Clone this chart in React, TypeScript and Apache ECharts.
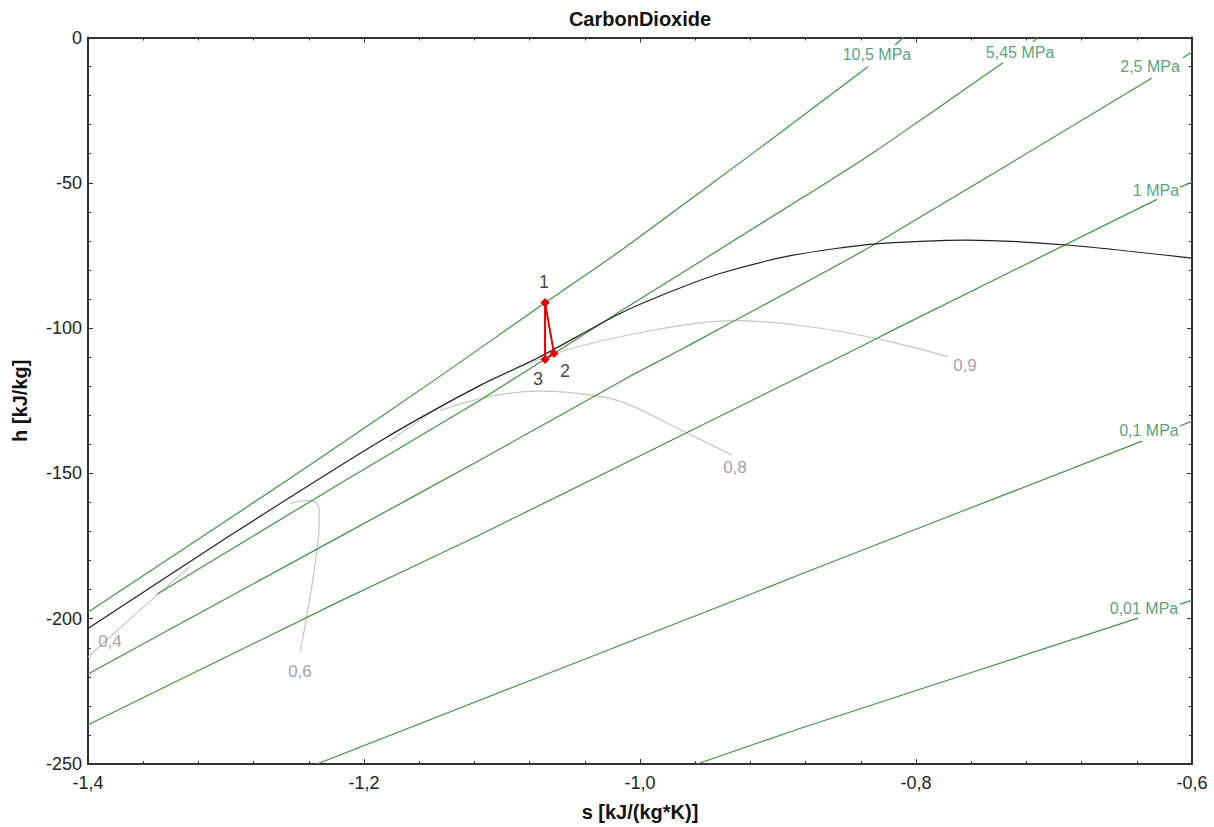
import React, { useEffect, useRef } from 'react';
import * as echarts from 'echarts';

type P = [number, number];

// ---- axis ranges / ticks ----
const S_MIN = -1.4;
const S_MAX = -0.6;
const S_STEP = 0.2;
const H_MIN = -250;
const H_MAX = 0;
const H_STEP = 50;

// ---- isobars (main part + short tail after label gap) ----
const isobarNames = ['10,5 MPa', '5,45 MPa', '2,5 MPa', '1 MPa', '0,1 MPa', '0,01 MPa'];

const isobar105: P[] = [[-1.4, -197.8], [-1.2529, -151.5], [-1.1471, -117.3], [-1.0688, -91.3], [-1.0123, -72.8], [-0.9145, -38.5], [-0.8348, -10.1]];
const isobar105Tail: P[] = [[-0.8152, -2.6], [-0.8091, 0]];

const isobar545: P[] = [[-1.35, -191.6], [-1.2188, -153.9], [-1.1159, -124.8], [-1.0623, -108.7], [-1.0145, -94.3], [-0.8841, -55.7], [-0.8275, -38.5], [-0.737, -8.7]];
const isobar545Tail: P[] = [[-0.7152, -1.5], [-0.7116, 0]];

const isobar25: P[] = [[-1.4, -219.0], [-1.2188, -172.1], [-1.1159, -145.4], [-1.0072, -116.6], [-0.9688, -107.0], [-0.8333, -72.1], [-0.629, -13.9]];
const isobar25Tail: P[] = [[-0.6065, -7.0], [-0.6, -5.0]];

const isobar1: P[] = [[-1.4, -236.5], [-1.2188, -194.3], [-1.1159, -171.1], [-0.8428, -107.0], [-0.8116, -99.5], [-0.6254, -55.7]];
const isobar1Tail: P[] = [[-0.6087, -51.5], [-0.6, -49.8]];

const isobar01: P[] = [[-1.2341, -250], [-0.9254, -192.6], [-0.8841, -184.8], [-0.6362, -138.9]];
const isobar01Tail: P[] = [[-0.6087, -133.7], [-0.6, -132.0]];

const isobar001: P[] = [[-0.9587, -250], [-0.8841, -237.8], [-0.6391, -199.8]];
const isobar001Tail: P[] = [[-0.6087, -195.0], [-0.6, -193.7]];

const isobarLabelPos: P[] = [[-0.8283, -6.0], [-0.7246, -5.3], [-0.6304, -10.1], [-0.6261, -52.6], [-0.6312, -135.1], [-0.6348, -196.4]];

// ---- black curve ----
const blackCurve: P[] = [[-1.4, -203.4], [-1.2971, -171.4], [-1.1884, -138.9], [-1.1159, -119.7], [-1.0746, -110.4], [-1.0145, -95.0], [-0.978, -87.5], [-0.942, -81.2], [-0.89, -75.0], [-0.8312, -71.1], [-0.763, -69.7], [-0.6906, -71.4], [-0.6, -75.9]];

// ---- vapour quality curves ----
const qualityNames = ['0,9', '0,8', '0,6', '0,4'];
const quality09: P[] = [[-1.1812, -138.9], [-1.1377, -125.2], [-1.0652, -109.4], [-0.9928, -100.9], [-0.9326, -97.4], [-0.8841, -99.1], [-0.8283, -103.6], [-0.7768, -109.8]];
const quality08: P[] = [[-1.1449, -128.3], [-1.1087, -123.5], [-1.0725, -121.7], [-1.029, -123.5], [-1.0072, -126.5], [-0.9688, -135.4], [-0.9333, -143.7]];
const quality06: P[] = [[-1.2536, -160.4], [-1.2428, -159.4], [-1.2355, -159.8], [-1.2326, -162.2], [-1.2326, -168.7], [-1.2348, -178.9], [-1.2391, -192.6], [-1.2442, -206.3], [-1.2464, -211.5]];
const quality04: P[] = [[-1.3261, -182.0], [-1.3493, -191.6], [-1.3761, -202.9], [-1.4, -213.2]];
const qualityLabelPos: P[] = [[-0.7645, -112.8], [-0.9312, -148.1], [-1.2464, -218.3], [-1.3841, -208.0]];

// ---- cycle points ----
const cycleNames = ['1', '2', '3'];
const cyclePoints: P[] = [[-1.0688, -91.3], [-1.0623, -108.7], [-1.0688, -110.8]];
const cycleLabelPos: P[] = [[-1.0696, -84.1], [-1.0543, -114.9], [-1.0739, -117.6]];

const FONT = '"Liberation Sans", Arial, sans-serif';
const GREEN = '#3d963d';
const GREEN_TEXT = '#2a8a55';
const GREY = '#c6c6c6';
const GREY_TEXT = '#8a8a8a';

function lineSeries(name: string, data: P[], color: string, width: number, z = 2, smooth: number | boolean = false) {
  return {
    name,
    type: 'line',
    data,
    showSymbol: false,
    symbol: 'none',
    smooth,
    lineStyle: { color, width },
    z,
    silent: true,
  };
}

function labelSeries(name: string, names: string[], pos: P[], color: string, size: number) {
  return {
    name,
    type: 'scatter',
    symbolSize: 1,
    itemStyle: { color: 'transparent' },
    data: pos.map((p, i) => ({ value: p, label: { formatter: names[i] } })),
    label: { show: true, position: 'inside', color, fontSize: size, fontFamily: FONT },
    z: 10,
    silent: true,
  };
}

export default function App() {
  const ref = useRef<HTMLDivElement>(null);
  useEffect(() => {
    if (!ref.current) return;
    const chart = echarts.init(ref.current, undefined, { renderer: 'svg' });
    const isoMain = [isobar105, isobar545, isobar25, isobar1, isobar01, isobar001];
    const isoTail = [isobar105Tail, isobar545Tail, isobar25Tail, isobar1Tail, isobar01Tail, isobar001Tail];
    const qual = [quality09, quality08, quality06, quality04];
    const series: any[] = [];
    isoMain.forEach((d, i) => series.push(lineSeries(isobarNames[i], d, GREEN, 1.2, 2, 0.15)));
    isoTail.forEach((d, i) => series.push(lineSeries(isobarNames[i] + ' tail', d, GREEN, 1.2, 2, false)));
    qual.forEach((d, i) => series.push(lineSeries('x=' + qualityNames[i], d, GREY, 1.2, 1, 0.3)));
    series.push(lineSeries('curve', blackCurve, '#222222', 1.2, 3, 0.25));
    series.push({
      name: 'cycle',
      type: 'line',
      data: [cyclePoints[0], cyclePoints[1], cyclePoints[2], cyclePoints[0]],
      symbol: 'diamond',
      symbolSize: 9,
      showSymbol: true,
      itemStyle: { color: '#e60000' },
      lineStyle: { color: '#e60000', width: 2 },
      z: 5,
      silent: true,
    });
    series.push(labelSeries('isobar labels', isobarNames, isobarLabelPos, GREEN_TEXT, 16));
    series.push(labelSeries('quality labels', qualityNames, qualityLabelPos, GREY_TEXT, 17));
    series.push(labelSeries('cycle labels', cycleNames, cycleLabelPos, '#111111', 18));

    const axisLine = { show: true, onZero: false, lineStyle: { color: '#333', width: 2 } };
    const tick = { show: true, inside: true, length: 5, lineStyle: { color: '#333', width: 1 } };
    const minor = { show: true, splitNumber: 5, length: 3, lineStyle: { color: '#333', width: 1 } };

    chart.setOption({
      animation: false,
      backgroundColor: '#ffffff',
      grid: { left: 88, top: 37.5, right: 22, bottom: 59.5, containLabel: false },
      graphic: [
        {
          type: 'text',
          x: 640,
          y: 19,
          style: { text: 'CarbonDioxide', fontSize: 20, fontWeight: 'bold', fontFamily: FONT, fill: '#111', textAlign: 'center', textVerticalAlign: 'middle' },
        },
      ],
      xAxis: [
        {
          type: 'value',
          min: S_MIN,
          max: S_MAX,
          interval: S_STEP,
          position: 'bottom',
          axisLine,
          axisTick: tick,
          minorTick: minor,
          splitLine: { show: false },
          axisLabel: {
            color: '#222',
            fontSize: 18,
            fontFamily: FONT,
            margin: 10,
            formatter: (v: number) => v.toFixed(1).replace('.', ','),
          },
          name: 's [kJ/(kg*K)]',
          nameLocation: 'middle',
          nameGap: 38,
          nameTextStyle: { fontSize: 20, fontWeight: 'bold', fontFamily: FONT, color: '#111' },
        },
        {
          type: 'value',
          min: S_MIN,
          max: S_MAX,
          interval: S_STEP,
          position: 'top',
          axisLine,
          axisTick: tick,
          minorTick: minor,
          splitLine: { show: false },
          axisLabel: { show: false },
        },
      ],
      yAxis: [
        {
          type: 'value',
          min: H_MIN,
          max: H_MAX,
          interval: H_STEP,
          position: 'left',
          axisLine,
          axisTick: tick,
          minorTick: minor,
          splitLine: { show: false },
          axisLabel: { color: '#222', fontSize: 18, fontFamily: FONT, margin: 6 },
          name: 'h [kJ/kg]',
          nameLocation: 'middle',
          nameGap: 58,
          nameTextStyle: { fontSize: 20, fontWeight: 'bold', fontFamily: FONT, color: '#111' },
        },
        {
          type: 'value',
          min: H_MIN,
          max: H_MAX,
          interval: H_STEP,
          position: 'right',
          axisLine,
          axisTick: tick,
          minorTick: minor,
          splitLine: { show: false },
          axisLabel: { show: false },
        },
      ],
      series,
    });
    return () => chart.dispose();
  }, []);
  return <div ref={ref} style={{ position: 'fixed', left: 0, top: 0, width: 1214, height: 827, background: '#fff' }} />;
}
